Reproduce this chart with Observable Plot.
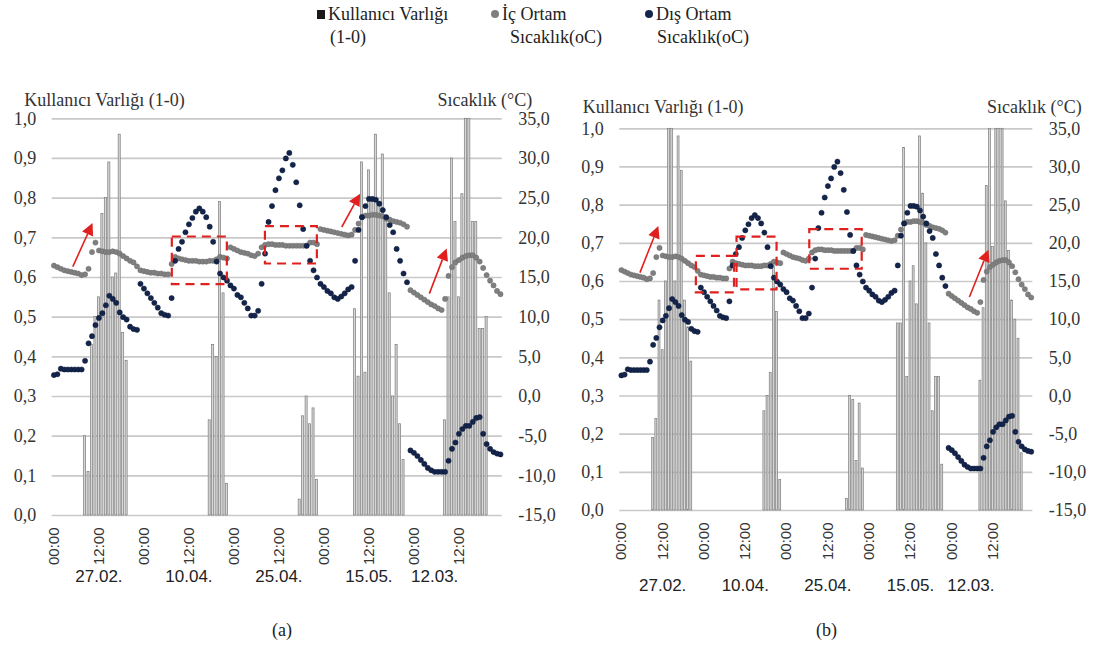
<!DOCTYPE html>
<html>
<head>
<meta charset="utf-8">
<script src="https://cdn.jsdelivr.net/npm/d3@7"></script>
<script src="https://cdn.jsdelivr.net/npm/@observablehq/plot@0.6"></script>
<style>
  html, body { margin: 0; padding: 0; background: #fff; }
  #wrap { position: relative; width: 1094px; height: 646px; overflow: hidden; background: #fff;
          font-family: "Liberation Serif", "Times New Roman", Times, "DejaVu Serif", "Noto Serif", serif; color: #222; }
  .abs { position: absolute; white-space: nowrap; }
  .leg { font-size: 18px; line-height: 22px; }
  .cap { font-size: 18px; }
  .mk { position: absolute; }
</style>
</head>
<body>
<div id="wrap">
  <!-- legend -->
  <div class="mk" style="left:317px;top:10px;width:8px;height:9px;background:#1a1a1a"></div>
  <div class="abs leg" style="left:328px;top:3px">Kullanıcı Varlığı</div>
  <div class="abs leg" style="left:330px;top:26px">(1-0)</div>
  <div class="mk" style="left:491px;top:10px;width:8px;height:8px;border-radius:50%;background:#7f7f7f"></div>
  <div class="abs leg" style="left:502px;top:3px">İç Ortam</div>
  <div class="abs leg" style="left:510px;top:26px">Sıcaklık(oC)</div>
  <div class="mk" style="left:645px;top:10px;width:8px;height:8px;border-radius:50%;background:#14254d"></div>
  <div class="abs leg" style="left:656px;top:3px">Dış Ortam</div>
  <div class="abs leg" style="left:657px;top:26px">Sıcaklık(oC)</div>

  <div id="pa" class="abs" style="left:0;top:70px"></div>
  <div id="pb" class="abs" style="left:560px;top:70px"></div>

  <div class="abs cap" style="left:272px;top:620px">(a)</div>
  <div class="abs cap" style="left:816px;top:620px">(b)</div>
</div>
<script>
// Hourly readings, 130 steps per panel (five measurement days placed side by side)
const hourTicks = [0, 13, 26, 39, 52, 65, 78, 91, 104, 117];
const hourLabels = ["00:00", "12:00", "00:00", "12:00", "00:00", "12:00", "00:00", "12:00", "00:00", "12:00"];
const dates = ["27.02.", "10.04.", "25.04.", "15.05.", "12.03."];
const dateAt = [13, 39, 65, 91, 110];

// Outdoor temperature (°C)
const outdoorTemp = [
  2.7, 2.8, 3.5, 3.4, 3.4, 3.4, 3.4, 3.4, 3.4, 4.5, 6.7, 7.6, 9.0, 9.9, 10.5, 11.5, 12.7, 12.3, 11.8, 10.6, 10.0, 9.7, 8.8, 8.5, 8.4,
  14.2, 13.6, 13.0, 12.4, 11.8, 11.2, 10.5, 10.3, 10.2, 12.4, 17.1, 18.6, 19.5, 20.7, 21.7, 22.5, 23.3, 23.7, 23.3, 22.6, 21.4, 19.5, 17.0, 15.5, 15.0, 14.6, 14.0, 13.6, 12.8, 12.5, 11.8, 11.1, 10.2, 10.2, 10.8,
  14.2, 18.0, 22.0, 24.0, 26.0, 27.5, 28.5, 30.0, 30.7, 29.2, 27.0, 24.1, 21.1, 19.0, 17.1, 15.9, 15.0, 14.2, 13.8, 13.3, 13.0, 12.5, 12.3, 12.6, 13.0, 13.5, 13.8,
  17.1, 21.0, 22.6, 24.0, 24.9, 24.9, 24.8, 24.3, 23.5, 22.6, 21.6, 20.7, 18.6, 17.1, 15.5, 14.4,
  -6.8, -7.1, -7.5, -8.0, -8.5, -9.0, -9.3, -9.5, -9.5, -9.5, -9.5, -8.1, -6.6, -5.8, -4.7, -4.1, -3.7, -3.7, -3.2, -2.7, -2.6, -4.7, -6.0, -6.6, -7.0, -7.2, -7.3
];

// Indoor temperature (°C)
const indoorTemp = [
  16.5, 16.3, 16.1, 15.9, 15.8, 15.7, 15.6, 15.5, 15.3, 15.4, 16.1, 18.2, 19.4, 18.4, 18.3, 18.2, 18.2, 18.3, 18.2, 18.0, 17.7, 17.4, 17.1, 16.9, 16.4,
  15.9, 15.8, 15.7, 15.6, 15.6, 15.5, 15.5, 15.4, 15.4, 16.7, 17.6, 17.4, 17.3, 17.2, 17.1, 17.1, 17.1, 17.0, 17.0, 17.0, 17.1, 17.1, 17.3, 17.6, 17.5, 17.4,
  18.8, 18.6, 18.4, 18.2, 18.1, 18.0, 17.8, 17.7, 18.0, 18.8, 19.1, 19.2, 19.2, 19.1, 19.1, 19.1, 19.0, 19.0, 19.0, 19.0, 19.0, 19.0, 19.0, 19.4, 19.4, 19.2,
  21.1, 21.0, 20.9, 20.8, 20.7, 20.6, 20.5, 20.4, 20.3, 20.4, 21.0, 21.8, 22.6, 22.8, 22.8, 22.9, 22.9, 22.8, 22.7, 22.4, 22.3, 22.1, 22.0, 21.9, 21.7, 21.4,
  13.4, 13.1, 12.8, 12.5, 12.2, 11.9, 11.6, 11.4, 11.1, 10.9, 12.3, 15.2, 16.3, 16.9, 17.2, 17.5, 17.7, 17.8, 17.8, 17.5, 17.0, 16.2, 15.3, 14.6, 14.0, 13.3, 12.9
];

// Occupant presence (1-0), panel (a)
const presenceA = [
  0, 0, 0, 0, 0, 0, 0, 0, 0,
  0.20, 0.11, 0.43, 0.50, 0.55, 0.76, 0.80, 0.89, 0.60, 0.61, 0.96, 0.46, 0.39,
  0, 0, 0, 0, 0, 0, 0, 0, 0, 0, 0, 0, 0, 0, 0, 0, 0, 0, 0, 0, 0, 0, 0,
  0.24, 0.43, 0.40, 0.79, 0.56, 0.08,
  0, 0, 0, 0, 0, 0, 0, 0, 0, 0, 0, 0, 0, 0, 0, 0, 0, 0, 0, 0,
  0.04, 0.25, 0.30, 0.23, 0.27, 0.09,
  0, 0, 0, 0, 0, 0, 0, 0, 0, 0,
  0.52, 0.35, 0.89, 0.36, 0.87, 0.79, 0.96, 0.78, 0.91, 0.75, 0.56, 0.30, 0.43, 0.23, 0.14,
  0, 0, 0, 0, 0, 0, 0, 0, 0, 0, 0,
  0.24, 0.55, 0.90, 0.74, 0.55, 0.81, 1.00, 1.00, 0.74, 0.74, 0.47, 0.47, 0.50,
  0, 0, 0, 0
];

// Occupant presence (1-0), panel (b)
const presenceB = [
  0, 0, 0, 0, 0, 0, 0, 0, 0, 0,
  0.19, 0.24, 0.55, 0.42, 0.60, 1.00, 1.00, 0.60, 0.98, 0.89, 0.55, 0.48, 0.39,
  0, 0, 0, 0, 0, 0, 0, 0, 0, 0, 0, 0, 0, 0, 0, 0, 0, 0, 0, 0, 0, 0,
  0.26, 0.30, 0.36, 0.64, 0.52, 0.08,
  0, 0, 0, 0, 0, 0, 0, 0, 0, 0, 0, 0, 0, 0, 0, 0, 0, 0, 0, 0,
  0.03, 0.30, 0.29, 0.13, 0.28, 0.11,
  0, 0, 0, 0, 0, 0, 0, 0, 0, 0,
  0.49, 0.49, 0.95, 0.35, 0.60, 0.64, 0.54, 0.98, 0.83, 0.70, 0.49, 0.26, 0.35, 0.35, 0.12,
  0, 0, 0, 0, 0, 0, 0, 0, 0, 0, 0,
  0.34, 0.53, 0.85, 1.00, 0.69, 1.00, 1.00, 1.00, 0.81, 0.68, 0.55, 0.50, 0.45, 0.15,
  0, 0, 0
];

// Highlighted periods: hour range and temperature range (°C)
const boxesA = [
  {from: 34.2, to: 50.1, low: 14.1, high: 20.1},
  {from: 61.1, to: 76.1, low: 16.7, high: 21.4}
];
const boxesB = [
  {from: 23.6, to: 35.6, low: 13.5, high: 18.3},
  {from: 36.4, to: 49.0, low: 13.9, high: 20.8},
  {from: 59.3, to: 75.8, low: 16.6, high: 21.8}
];

// Jumps in indoor temperature: start (hour, °C) -> end (hour, °C)
const jumpsA = [
  {h1: 5.6, t1: 16.3, h2: 11.3, t2: 21.8},
  {h1: 83.3, t1: 21.3, h2: 88.6, t2: 25.5},
  {h1: 108.6, t1: 12.9, h2: 113.6, t2: 18.6}
];
const jumpsB = [
  {h1: 6.0, t1: 16.1, h2: 11.8, t2: 22.2},
  {h1: 109.7, t1: 12.9, h2: 115.7, t2: 19.1}
];

const presenceTicks = d3.range(0, 11).map(k => k / 10);
const tempMin = -15, tempMax = 35;
// temperature shares the vertical axis with presence: -15 °C ↔ 0, 35 °C ↔ 1
const tempToY = t => (t - tempMin) / (tempMax - tempMin);
const comma = v => v.toFixed(1).replace(".", ",");

const RED = "#e0201f";
const serif = "'Liberation Serif', 'Times New Roman', Times, 'DejaVu Serif', 'Noto Serif', serif";

function jumpArrows(jumps) {
  return (index, scales) => {
    const ns = "http://www.w3.org/2000/svg";
    const g = document.createElementNS(ns, "g");
    for (const a of jumps) {
      const x1 = scales.x(a.h1), y1 = scales.y(tempToY(a.t1));
      const x2 = scales.x(a.h2), y2 = scales.y(tempToY(a.t2));
      const dx = x2 - x1, dy = y2 - y1, len = Math.hypot(dx, dy);
      const ux = dx / len, uy = dy / len;
      const head = 12, half = 6;
      const bx = x2 - ux * head, by = y2 - uy * head;
      const line = document.createElementNS(ns, "line");
      line.setAttribute("x1", x1); line.setAttribute("y1", y1);
      line.setAttribute("x2", bx); line.setAttribute("y2", by);
      line.setAttribute("stroke", RED); line.setAttribute("stroke-width", 1.6);
      g.appendChild(line);
      const tri = document.createElementNS(ns, "polygon");
      tri.setAttribute("points", [
        [x2, y2],
        [bx - uy * half, by + ux * half],
        [bx + uy * half, by - ux * half]
      ].map(p => p.join(",")).join(" "));
      tri.setAttribute("fill", RED);
      g.appendChild(tri);
    }
    return g;
  };
}

function panel(o) {
  const indoor = indoorTemp.map((t, i) => ({i, v: tempToY(t)}));
  const outdoor = outdoorTemp.map((t, i) => ({i, v: tempToY(t)}));
  const bars = o.presence.map((v, i) => ({i, v})).filter(d => d.v > 0);
  const boxes = o.boxes.map(b => ({x1: b.from, x2: b.to, y1: tempToY(b.low), y2: tempToY(b.high)}));
  const dateRows = dates.map((d, k) => ({d, i: dateAt[k]}));
  return Plot.plot({
    width: o.width, height: o.height,
    marginLeft: o.ml, marginRight: o.mr, marginTop: o.mt, marginBottom: o.mb,
    style: {fontFamily: serif, background: "transparent", overflow: "visible"},
    x: {domain: [-0.5, indoorTemp.length - 0.5], axis: null},
    y: {domain: [0, 1], axis: null},
    marks: [
      Plot.ruleY(presenceTicks, {stroke: "#c9c9c9", strokeWidth: 1.7}),
      Plot.rectY(bars, {x1: d => d.i - 0.3, x2: d => d.i + 0.3, y: "v", fill: "#d6d6d6", stroke: "#7c7c7c", strokeWidth: 0.7}),
      Plot.dot(indoor, {x: "i", y: "v", r: 2.6, fill: "#808080", stroke: "#6a6a6a", strokeWidth: 0.5}),
      Plot.dot(outdoor, {x: "i", y: "v", r: 2.6, fill: "#14254d", stroke: "#0b1633", strokeWidth: 0.5}),
      Plot.rect(boxes, {x1: "x1", x2: "x2", y1: "y1", y2: "y2", fill: "none", stroke: RED, strokeWidth: 2.2, strokeDasharray: "9,6"}),
      jumpArrows(o.jumps),
      Plot.axisY(presenceTicks, {anchor: "left", tickSize: 0, tickPadding: 16, tickFormat: comma,
        fontSize: 18, fontFamily: serif, color: "#333", label: null}),
      Plot.axisY(presenceTicks, {anchor: "right", tickSize: 0, tickPadding: 16, textAnchor: "start",
        tickFormat: v => comma(v * (tempMax - tempMin) + tempMin),
        fontSize: 18, fontFamily: serif, color: "#333", label: null}),
      Plot.axisX(hourTicks, {anchor: "bottom", tickSize: 0, tickPadding: 12, tickRotate: -90,
        tickFormat: d => hourLabels[hourTicks.indexOf(d)],
        fontSize: 15, fontFamily: "'Liberation Sans', Arial, sans-serif", color: "#333", label: null}),
      Plot.text(dateRows, {x: "i", text: "d", frameAnchor: "bottom", dy: o.dateDy,
        fontSize: 17, fontFamily: "'Liberation Sans Narrow', 'Liberation Sans', sans-serif", fill: "#222"}),
      Plot.text(["Kullanıcı Varlığı (1-0)"], {frameAnchor: "top-left", textAnchor: "start", dx: o.ltDx, dy: o.ltDy,
        fontSize: 18, fontFamily: serif, fill: "#333"}),
      Plot.text(["Sıcaklık (°C)"], {frameAnchor: "top-right", textAnchor: "end", dx: o.rtDx, dy: o.rtDy,
        fontSize: 18, fontFamily: serif, fill: "#333"})
    ]
  });
}

document.getElementById("pa").appendChild(panel({
  presence: presenceA, boxes: boxesA, jumps: jumpsA,
  width: 560, height: 530, ml: 51.7, mr: 58.3, mt: 48.3, mb: 85,
  dateDy: 66, ltDx: -28, ltDy: -26, rtDx: 30, rtDy: -26
}));
document.getElementById("pb").appendChild(panel({
  presence: presenceB, boxes: boxesB, jumps: jumpsB,
  width: 534, height: 530, ml: 59.3, mr: 61.7, mt: 58.3, mb: 90,
  dateDy: 80, ltDx: -37, ltDy: -29, rtDx: 49, rtDy: -29
}));
</script>
</body>
</html>
